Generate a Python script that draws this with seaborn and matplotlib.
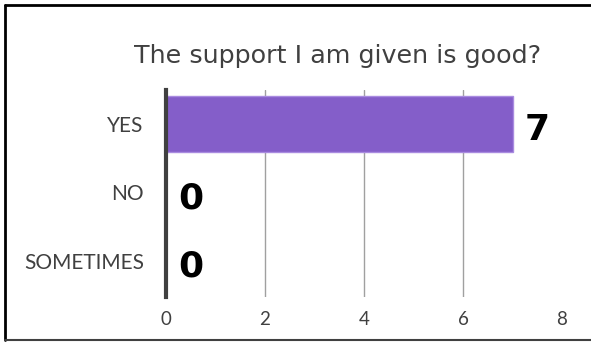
import matplotlib
matplotlib.use("Agg")
import matplotlib.pyplot as plt
import seaborn as sns
import pandas as pd
from matplotlib.lines import Line2D

categories = ["YES", "NO", "SOMETIMES"]
values = [7, 0, 0]
x_ticks = [0, 2, 4, 6, 8]
title = "The support I am given is good?"

sns.set_theme(style="white")
plt.rcParams['font.family'] = ['Lato', 'DejaVu Sans']

df = pd.DataFrame({"category": categories, "value": values})

fig = plt.figure(figsize=(5.91, 3.45), dpi=100)
ax = fig.add_axes([166/591, 1-297/345, (562-166)/591, (297-90)/345])

sns.barplot(data=df, y="category", x="value", ax=ax, color="#845EC9",
            saturation=1, width=0.82, edgecolor="#A98BE0", linewidth=1, zorder=3)

ax.set_xlim(0, 8)
# category 0 at y=124px, category 2 at y=261px
step = (261 - 124) / 2
ax.set_ylim(2 + (297 - 261) / step, 0 - (124 - 90) / step)
ax.set_xticks(x_ticks)
ax.set_xticklabels([str(t) for t in x_ticks], fontsize=13.5, color="#404040")
ax.tick_params(axis="y", labelsize=15, colors="#404040", length=0, pad=16)
ax.tick_params(axis="x", length=0, pad=10)
ax.set_xlabel("")
ax.set_ylabel("")
for s in ["top", "right", "bottom"]:
    ax.spines[s].set_visible(False)
ax.spines["left"].set_color("#404040")
ax.spines["left"].set_linewidth(3)
ax.spines["left"].set_zorder(4)
for t in x_ticks[1:-1]:
    ax.axvline(t, color="#A0A0A0", linewidth=1, zorder=1)

for i, v in enumerate(values):
    ax.annotate(str(v), xy=(v, i), xytext=(8.5, -4), textcoords="offset points",
                ha="left", va="center", fontsize=26, fontweight="bold",
                color="black", family=["DejaVu Sans"])

fig.text(338/591, 1-56/345, title, ha="center", va="center", fontsize=18.3,
         color="#404040", family=["DejaVu Sans"])

# outer frame lines
fig.add_artist(Line2D([5/591, 5/591], [1-5/345, 1-340/345], transform=fig.transFigure, color="black", linewidth=2))
fig.add_artist(Line2D([5/591, 1], [1-5/345, 1-5/345], transform=fig.transFigure, color="black", linewidth=2))
fig.add_artist(Line2D([5/591, 1], [1-340/345, 1-340/345], transform=fig.transFigure, color="#404040", linewidth=1.5))

fig.savefig("out.png", dpi=100)
